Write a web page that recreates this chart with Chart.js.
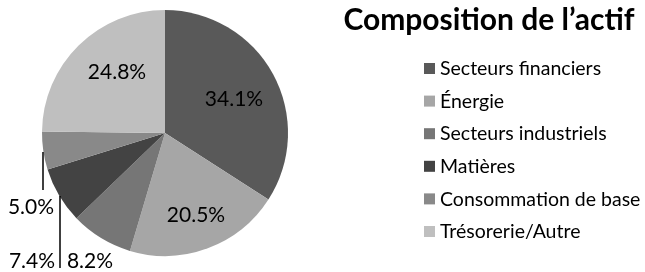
<!DOCTYPE html>
<html>
<head>
<meta charset="utf-8">
<script src="https://cdn.jsdelivr.net/npm/chart.js@4/dist/chart.umd.min.js"></script>
<style>
  html, body { margin: 0; padding: 0; background: #fff; }
  #wrap { width: 645px; height: 272px; position: relative; }
</style>
</head>
<body>
<div id="wrap"><canvas id="myChart" width="645" height="272"></canvas></div>
<script>
// data
const categories = ["Secteurs financiers", "Énergie", "Secteurs industriels", "Matières", "Consommation de base", "Trésorerie/Autre"];
const shares = [34.1, 20.5, 8.2, 7.4, 5.0, 24.8];
const sliceColors = ["#595959", "#a6a6a6", "#767676", "#434343", "#898989", "#bfbfbf"];
const chartTitle = "Composition de l\u2019actif";

// label offsets from pie centre (px), as Excel placed them
const labelOffsets = [[69, -34], [31, 82], [-75, 128], [-133, 128], [-134, 74], [-48, -61]];
const leaderLines = [[-122, 19, -122, 57], [-105, 63, -105, 135]];

const fontFam = "Lato, 'Open Sans', sans-serif";
const ctx = document.getElementById("myChart");

// title, legend and percent labels
const extras = {
  id: "extras",
  afterDraw(chart) {
    const c = chart.ctx;
    const arc = chart.getDatasetMeta(0).data[0];
    const cx = arc.x, cy = arc.y;
    c.save();
    c.fillStyle = "#000";
    c.textBaseline = "middle";

    // percent labels
    c.font = "21px " + fontFam;
    c.textAlign = "center";
    shares.forEach((v, i) => {
      const o = labelOffsets[i];
      c.fillText(v.toFixed(1) + "%", cx + o[0], cy + o[1]);
    });

    // leader lines
    c.strokeStyle = "#000";
    c.lineWidth = 1.5;
    leaderLines.forEach((l) => {
      c.beginPath();
      c.moveTo(cx + l[0], cy + l[1]);
      c.lineTo(cx + l[2], cy + l[3]);
      c.stroke();
    });

    // title
    c.font = "bold 30px " + fontFam;
    c.fillText(chartTitle, 489, 20);

    // legend
    c.font = "19.5px " + fontFam;
    c.textAlign = "left";
    categories.forEach((name, i) => {
      const y = 63 + i * 32.6;
      c.fillStyle = sliceColors[i];
      c.fillRect(424, y, 11, 11);
      c.fillStyle = "#000";
      c.fillText(name, 440, y + 6);
    });
    c.restore();
  }
};

const myChart = new Chart(ctx, {
  type: "pie",
  data: {
    labels: categories,
    datasets: [
      {
        data: shares,
        backgroundColor: sliceColors,
        borderWidth: 0,
      },
    ],
  },
  options: {
    responsive: false,
    animation: false,
    devicePixelRatio: 1,
    layout: { padding: { left: 42, top: 10, right: 357, bottom: 16 } },
    plugins: {
      legend: { display: false },
      tooltip: { enabled: false },
    },
  },
  plugins: [extras],
});
</script>
</body>
</html>
